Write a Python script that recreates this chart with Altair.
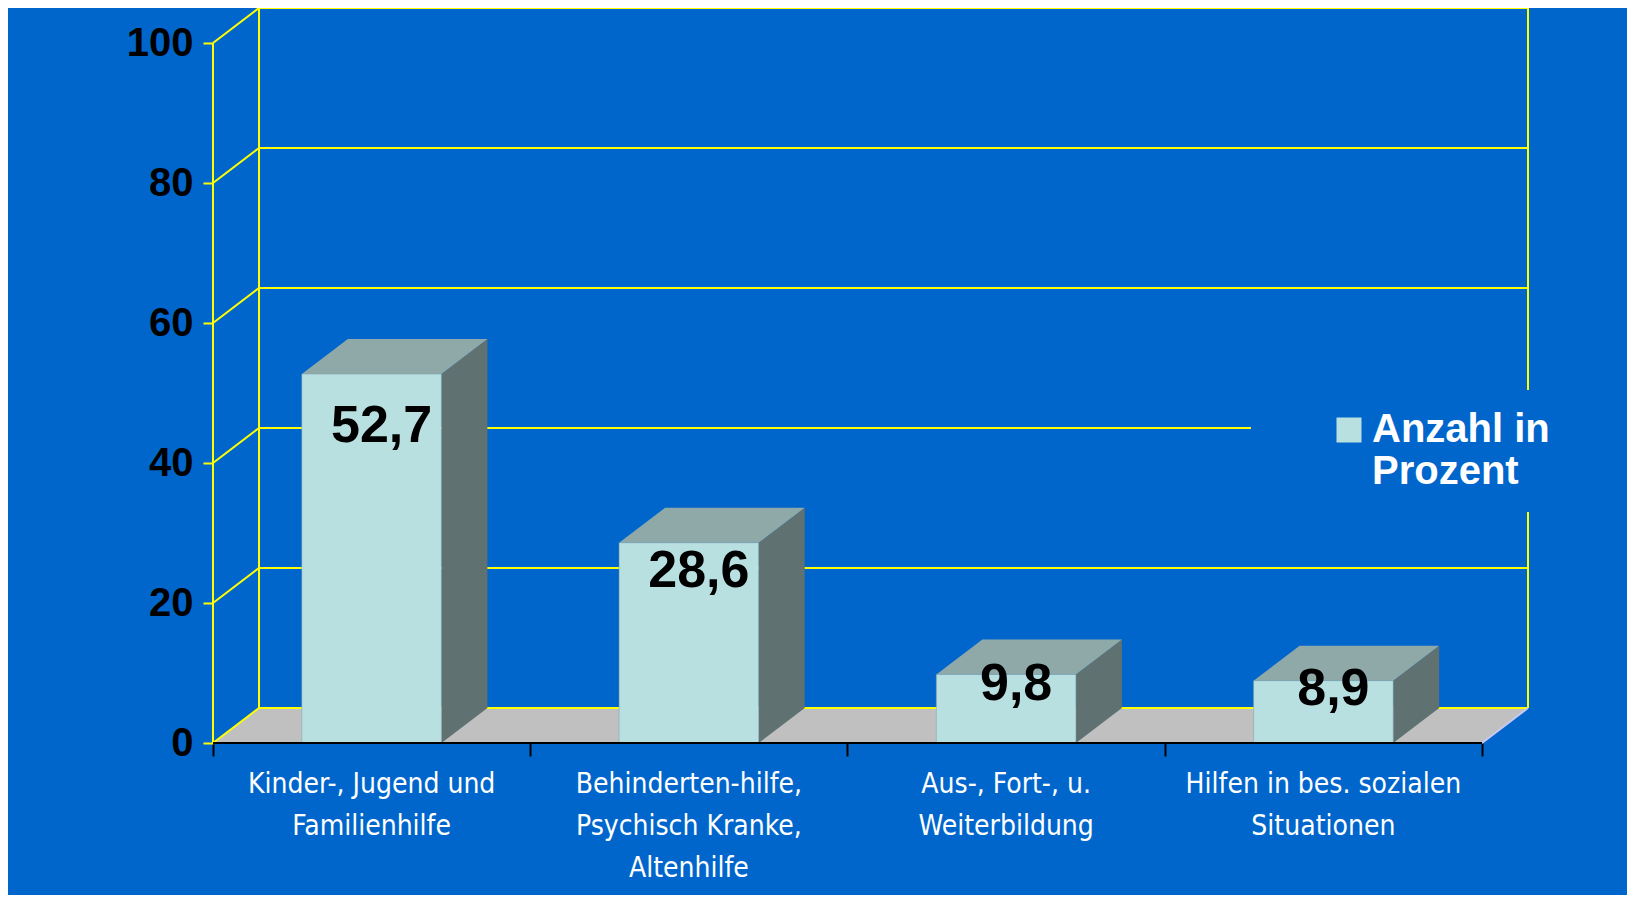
import altair as alt
import pandas as pd

# ---------------- data ----------------
categories = [
    "Kinder-, Jugend und\nFamilienhilfe",
    "Behinderten-hilfe,\nPsychisch Kranke,\nAltenhilfe",
    "Aus-, Fort-, u.\nWeiterbildung",
    "Hilfen in bes. sozialen\nSituationen",
]
values = [52.7, 28.6, 9.8, 8.9]
value_labels = ["52,7", "28,6", "9,8", "8,9"]
y_ticks = [0, 20, 40, 60, 80, 100]
series_name = "Anzahl in\nProzent"

# ---------------- 3D geometry (in data units) ----------------
DX = 0.145   # depth offset along x (category units)
DD = 5.0     # depth offset along y (value units)
HW = 0.22    # half width of bar front face
n = len(values)
x_ticks = list(range(n + 1))
XMAX = n + DX
YMAX = 100 + DD

BLUE = "#0066CC"
YELLOW = "#FFFF00"

bars = pd.DataFrame({"cat": categories, "value": values, "label": value_labels})
bars["series"] = series_name
bars["xc"] = [i + 0.5 for i in range(n)]
bars["xl"] = bars["xc"] - HW
bars["xr"] = bars["xc"] + HW
bars["zero"] = 0.0
bars["ly"] = bars["value"] * 0.86

side_rows, top_rows = [], []
for c, v, xl, xr in zip(bars["cat"], bars["value"], bars["xl"], bars["xr"]):
    side_rows.append({"cat": c, "sx": xr, "sy": v, "sy2": 0.0})
    side_rows.append({"cat": c, "sx": xr + DX, "sy": v + DD, "sy2": DD})
    top_rows.append({"cat": c, "ty": v, "tx": xl, "tx2": xr})
    top_rows.append({"cat": c, "ty": v + DD, "tx": xl + DX, "tx2": xr + DX})
side = pd.DataFrame(side_rows)
top = pd.DataFrame(top_rows)

floor = pd.DataFrame([
    {"fy": 0.0, "fx": 0.0, "fx2": float(n)},
    {"fy": DD, "fx": DX, "fx2": n + DX},
])

grid_rows = []
for v in y_ticks:
    grid_rows.append({"gx": DX, "gx2": n + DX, "gy": v + DD, "gy2": v + DD})
    grid_rows.append({"gx": 0.0, "gx2": DX, "gy": v, "gy2": v + DD})
grid_rows.append({"gx": DX, "gx2": DX, "gy": DD, "gy2": 100 + DD})
grid_rows.append({"gx": n + DX, "gx2": n + DX, "gy": DD, "gy2": 100 + DD})
grid_rows.append({"gx": 0.0, "gx2": 0.0, "gy": 0.0, "gy2": 100.0})
grid = pd.DataFrame(grid_rows)

axis_line = pd.DataFrame([{"gx": 0.0, "gx2": float(n), "gy": 0.0, "gy2": 0.0}])
floor_edge = pd.DataFrame([{"gx": float(n), "gx2": n + DX, "gy": 0.0, "gy2": DD}])

# ---------------- scales & axes ----------------
xs = alt.Scale(domain=[0, XMAX], nice=False, zero=False)
ys = alt.Scale(domain=[0, YMAX], nice=False, zero=False)

x_axis = alt.Axis(values=x_ticks, labels=False, title=None, grid=False, domain=False,
                  tickColor="black", tickWidth=2, tickSize=13)
y_axis = alt.Axis(values=y_ticks, title=None, grid=False, domain=False,
                  tickColor=YELLOW, tickWidth=2, tickSize=10,
                  labelFont="Liberation Sans", labelFontSize=40, labelFontWeight="bold",
                  labelColor="black", labelPadding=10)


def X(f):
    return alt.X(f, type="quantitative", scale=xs, axis=x_axis, stack=False)


def Y(f):
    return alt.Y(f, type="quantitative", scale=ys, axis=y_axis, stack=False)


floor_layer = alt.Chart(floor).mark_area(orient="horizontal", color="#C0C0C0").encode(
    y=Y("fy"), x=X("fx"), x2=alt.X2("fx2"))

floor_edge_layer = alt.Chart(floor_edge).mark_rule(color="#C8C8F0", strokeWidth=2).encode(
    x=X("gx"), x2=alt.X2("gx2"), y=Y("gy"), y2=alt.Y2("gy2"))

grid_layer = alt.Chart(grid).mark_rule(color=YELLOW, strokeWidth=2).encode(
    x=X("gx"), x2=alt.X2("gx2"), y=Y("gy"), y2=alt.Y2("gy2"))

axis_layer = alt.Chart(axis_line).mark_rule(color="black", strokeWidth=2).encode(
    x=X("gx"), x2=alt.X2("gx2"), y=Y("gy"), y2=alt.Y2("gy2"))

side_layer = alt.Chart(side).mark_area(orient="vertical", color="#5F7171").encode(
    x=X("sx"), y=Y("sy"), y2=alt.Y2("sy2"), detail="cat:N")

top_layer = alt.Chart(top).mark_area(orient="horizontal", color="#8FA9A9").encode(
    y=Y("ty"), x=X("tx"), x2=alt.X2("tx2"), detail="cat:N")

front_layer = alt.Chart(bars).mark_rect(stroke="#7FA0A8", strokeWidth=0.5).encode(
    x=X("xl"), x2=alt.X2("xr"), y=Y("value"), y2=alt.Y2("zero"),
    color=alt.Color("series:N",
                    scale=alt.Scale(domain=[series_name], range=["#B9E0E1"]),
                    legend=alt.Legend(
                        title=None, orient="none", legendX=1038, legendY=382,
                        fillColor=BLUE, padding=20, symbolOffset=58,
                        symbolType="square", symbolSize=625, symbolStrokeWidth=0,
                        symbolFillColor="#B9E0E1",
                        labelExpr="split(datum.label, '\\n')",
                        labelFont="Liberation Sans", labelFontSize=40,
                        labelFontWeight="bold", labelColor="white",
                        labelLimit=400, labelOffset=3)))

value_layer = alt.Chart(bars).mark_text(
    font="Liberation Sans", fontSize=52, fontWeight="bold", color="black",
    baseline="middle", align="center", dx=10).encode(
    x=X("xc"), y=Y("ly"), text="label:N")

cat_layer = alt.Chart(bars).mark_text(
    font="Liberation Sans Narrow, Arial Narrow, DejaVu Sans Condensed, sans-serif",
    fontSize=28, color="white", baseline="alphabetic", align="center",
    lineBreak="\n", lineHeight=42, dy=50).encode(
    x=X("xc"), y=Y("zero"), text="cat:N")

chart = alt.layer(
    floor_layer, grid_layer, floor_edge_layer, side_layer, top_layer, front_layer,
    axis_layer, value_layer, cat_layer,
).properties(
    width=1315, height=735,
    autosize=alt.AutoSizeParams(type="none"),
    padding={"left": 205, "top": 0, "right": 99, "bottom": 152},
    background=BLUE,
).configure_view(strokeWidth=0)

chart.save("out.html", embed_options={"renderer": "svg", "actions": False})
